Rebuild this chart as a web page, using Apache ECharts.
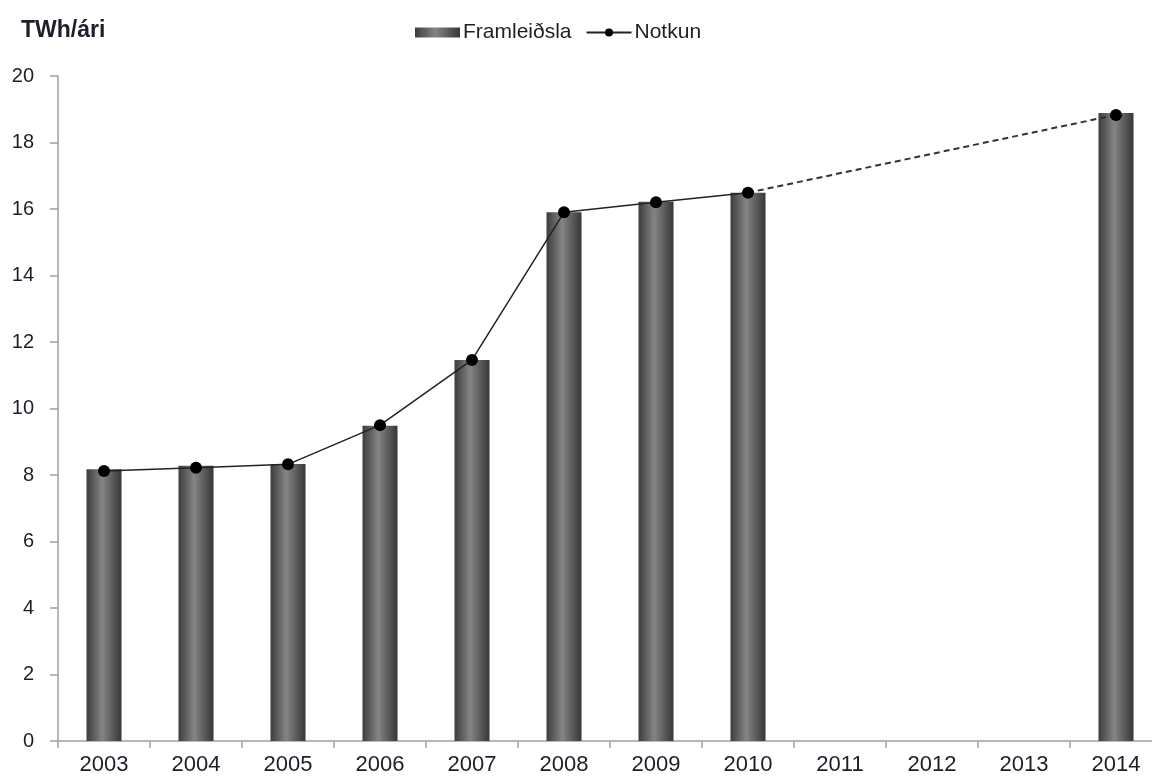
<!DOCTYPE html>
<html>
<head>
<meta charset="utf-8">
<script src="https://cdn.jsdelivr.net/npm/echarts@6/dist/echarts.min.js"></script>
<style>
  html, body { margin: 0; padding: 0; background: #fff; }
  #chart { width: 1152px; height: 780px; }
</style>
</head>
<body>
<div id="chart"></div>
<script>
const years = ['2003', '2004', '2005', '2006', '2007', '2008', '2009', '2010', '2011', '2012', '2013', '2014'];
const production = [8.17, 8.28, 8.33, 9.48, 11.46, 15.9, 16.22, 16.49, null, null, null, 18.89];
const consumption = [8.12, 8.22, 8.32, 9.5, 11.46, 15.9, 16.2, 16.49, null, null, null, 18.83];
const forecast = [null, null, null, null, null, null, null, 16.49, null, null, null, 18.83];

const FONT = '"Liberation Sans", Arial, sans-serif';
const AXIS_GRAY = '#a0a0a0';
const TEXT = '#1e1e28';

const barGradient = new echarts.graphic.LinearGradient(0, 0, 1, 0, [
  { offset: 0, color: '#3c3c3c' },
  { offset: 0.45, color: '#858585' },
  { offset: 1, color: '#363636' }
]);

const chart = echarts.init(document.getElementById('chart'));
chart.setOption({
  animation: false,
  textStyle: { fontFamily: FONT },
  // plot area runs past the right edge of the picture, like the original
  grid: { left: 58, width: 1104, top: 76, bottom: 39, containLabel: false, outerBoundsMode: 'none' },
  title: {
    text: 'TWh/ári',
    left: 16,
    top: 14,
    textStyle: { fontSize: 23, fontWeight: 'bold', color: TEXT, fontFamily: FONT }
  },
  legend: {
    top: 17,
    left: 410,
    itemGap: 14,
    itemWidth: 45,
    itemHeight: 10,
    textStyle: { fontSize: 21, color: TEXT, fontFamily: FONT, padding: [0, 0, 0, -2] },
    data: [
      { name: 'Framleiðsla', icon: 'rect' },
      { name: 'Notkun' }
    ]
  },
  xAxis: {
    type: 'category',
    data: years,
    boundaryGap: true,
    axisLine: { lineStyle: { color: AXIS_GRAY, width: 1.5 } },
    axisTick: { show: true, length: 7, lineStyle: { color: AXIS_GRAY, width: 1.5 } },
    axisLabel: { fontSize: 22, color: TEXT, margin: 13 },
    splitLine: { show: false }
  },
  yAxis: {
    type: 'value',
    min: 0,
    max: 20,
    interval: 2,
    axisLine: { show: true, lineStyle: { color: AXIS_GRAY, width: 1.5 } },
    axisTick: { show: true, length: 8, lineStyle: { color: AXIS_GRAY, width: 1.5 } },
    axisLabel: { fontSize: 20, color: TEXT, margin: 24 },
    splitLine: { show: false }
  },
  series: [
    {
      name: 'Framleiðsla',
      type: 'bar',
      data: production,
      barWidth: 35,
      itemStyle: { color: barGradient }
    },
    {
      name: 'Notkun-forecast',
      type: 'line',
      data: forecast,
      connectNulls: true,
      showSymbol: false,
      symbol: 'none',
      lineStyle: { color: '#333', width: 2, type: [6, 4] },
      z: 3
    },
    {
      name: 'Notkun',
      type: 'line',
      data: consumption,
      connectNulls: false,
      symbol: 'circle',
      symbolSize: 12,
      itemStyle: { color: '#000' },
      lineStyle: { color: '#222', width: 1.5 },
      z: 4
    }
  ]
});
</script>
</body>
</html>
